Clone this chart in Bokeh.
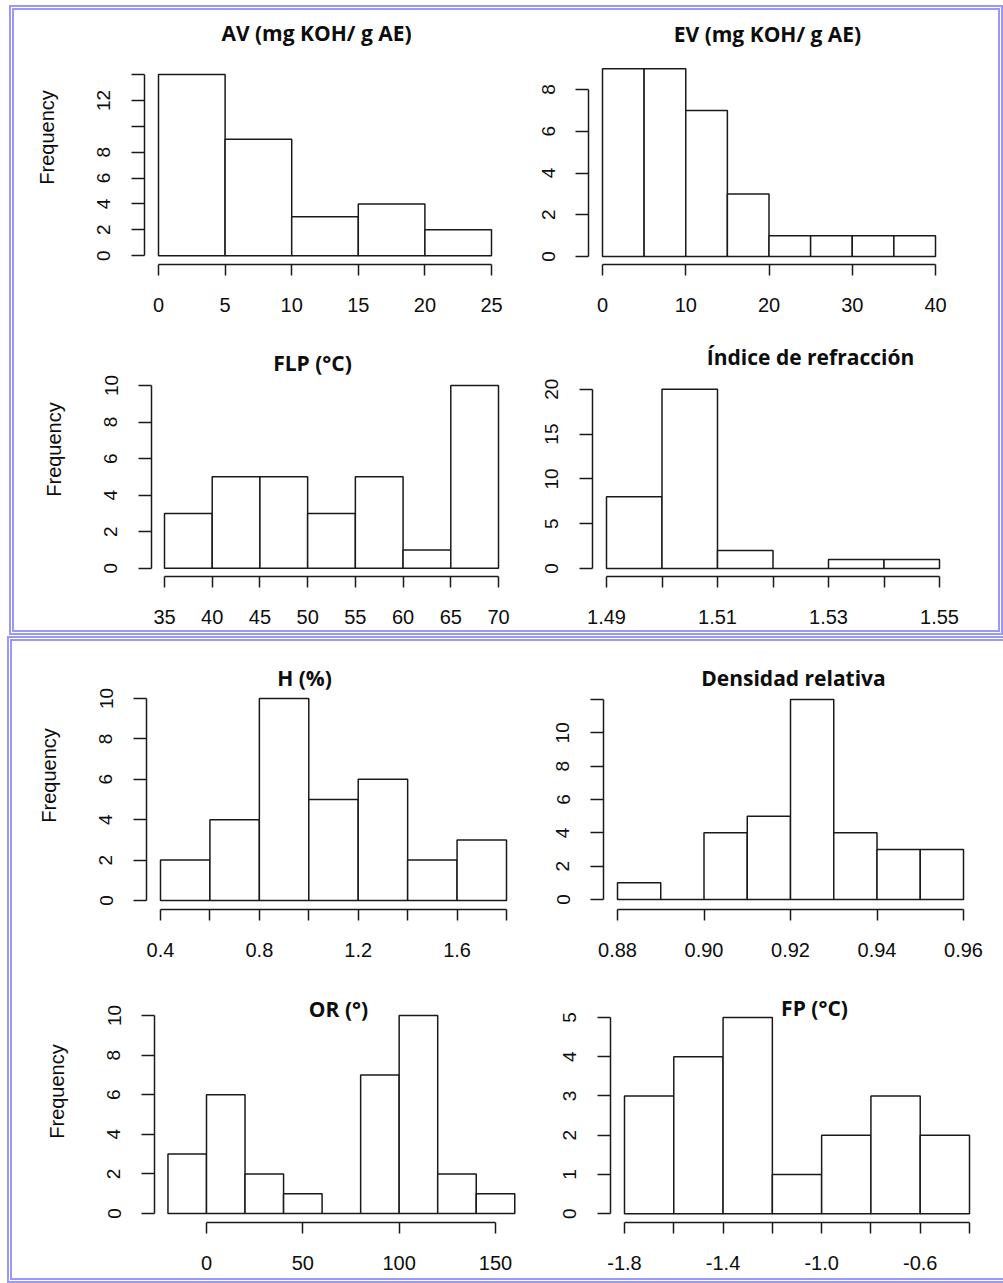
from bokeh.plotting import figure
from bokeh.layouts import column, row
from bokeh.models import FixedTicker, Label
from bokeh.embed import file_html
from bokeh.resources import INLINE

# ---------------- data ----------------
av_edges = [0, 5, 10, 15, 20, 25]
av_counts = [14, 9, 3, 4, 2]
av_xticks = [0, 5, 10, 15, 20, 25]
av_xlabels = ["0", "5", "10", "15", "20", "25"]
av_yticks = [0, 2, 4, 6, 8, 10, 12, 14]
av_ylabels = ["0", "2", "4", "6", "8", "", "12", ""]

ev_edges = [0, 5, 10, 15, 20, 25, 30, 35, 40]
ev_counts = [9, 9, 7, 3, 1, 1, 1, 1]
ev_xticks = [0, 10, 20, 30, 40]
ev_xlabels = ["0", "10", "20", "30", "40"]
ev_yticks = [0, 2, 4, 6, 8]
ev_ylabels = ["0", "2", "4", "6", "8"]

flp_edges = [35, 40, 45, 50, 55, 60, 65, 70]
flp_counts = [3, 5, 5, 3, 5, 1, 10]
flp_xticks = [35, 40, 45, 50, 55, 60, 65, 70]
flp_xlabels = ["35", "40", "45", "50", "55", "60", "65", "70"]
flp_yticks = [0, 2, 4, 6, 8, 10]
flp_ylabels = ["0", "2", "4", "6", "8", "10"]

ri_edges = [1.49, 1.50, 1.51, 1.52, 1.53, 1.54, 1.55]
ri_counts = [8, 20, 2, 0, 1, 1]
ri_xticks = [1.49, 1.50, 1.51, 1.52, 1.53, 1.54, 1.55]
ri_xlabels = ["1.49", "", "1.51", "", "1.53", "", "1.55"]
ri_yticks = [0, 5, 10, 15, 20]
ri_ylabels = ["0", "5", "10", "15", "20"]

h_edges = [0.4, 0.6, 0.8, 1.0, 1.2, 1.4, 1.6, 1.8]
h_counts = [2, 4, 10, 5, 6, 2, 3]
h_xticks = [0.4, 0.6, 0.8, 1.0, 1.2, 1.4, 1.6, 1.8]
h_xlabels = ["0.4", "", "0.8", "", "1.2", "", "1.6", ""]
h_yticks = [0, 2, 4, 6, 8, 10]
h_ylabels = ["0", "2", "4", "6", "8", "10"]

den_edges = [0.88, 0.89, 0.90, 0.91, 0.92, 0.93, 0.94, 0.95, 0.96]
den_counts = [1, 0, 4, 5, 12, 4, 3, 3]
den_xticks = [0.88, 0.90, 0.92, 0.94, 0.96]
den_xlabels = ["0.88", "0.90", "0.92", "0.94", "0.96"]
den_yticks = [0, 2, 4, 6, 8, 10, 12]
den_ylabels = ["0", "2", "4", "6", "8", "10", ""]

or_edges = [-20, 0, 20, 40, 60, 80, 100, 120, 140, 160]
or_counts = [3, 6, 2, 1, 0, 7, 10, 2, 1]
or_xticks = [0, 50, 100, 150]
or_xlabels = ["0", "50", "100", "150"]
or_yticks = [0, 2, 4, 6, 8, 10]
or_ylabels = ["0", "2", "4", "6", "8", "10"]

fp_edges = [-1.8, -1.6, -1.4, -1.2, -1.0, -0.8, -0.6, -0.4]
fp_counts = [3, 4, 5, 1, 2, 3, 2]
fp_xticks = [-1.8, -1.6, -1.4, -1.2, -1.0, -0.8, -0.6, -0.4]
fp_xlabels = ["-1.8", "", "-1.4", "", "-1.0", "", "-0.6", ""]
fp_yticks = [0, 1, 2, 3, 4, 5]
fp_ylabels = ["0", "1", "2", "3", "4", "5"]

titles = ["AV (mg KOH/ g AE)", "EV (mg KOH/ g AE)", "FLP (°C)", "Índice de refracción",
          "H (%)", "Densidad relativa", "OR (°)", "FP (°C)"]
ylab = "Frequency"

# ---------------- layout geometry (page pixels) ----------------
# cell: (left, top, width, height); frame: (left, top, right, bottom)
# calib: (xa, pxa, xb, pxb, ya, pya, yb, pyb); title centre (px, py)
GEOM = {
    "av":  dict(cell=(14, 10, 506, 312), frame=(144, 10, 494, 268),
                calib=(0, 158, 25, 491, 0, 259, 14, 75), title=(316, 33), flab=True),
    "ev":  dict(cell=(520, 10, 478, 312), frame=(588, 10, 938, 264),
                calib=(0, 602, 40, 935, 0, 256, 8, 89), title=(767, 33), flab=False),
    "flp": dict(cell=(14, 322, 506, 308), frame=(151, 322, 501, 576),
                calib=(35, 164, 70, 498, 0, 567.7, 10, 385), title=(312, 362), flab=True),
    "ri":  dict(cell=(520, 322, 478, 308), frame=(592, 322, 942, 577),
                calib=(1.49, 606, 1.55, 939, 0, 569, 20, 389), title=(810, 357), flab=False),
    "h":   dict(cell=(12, 641, 508, 319), frame=(146, 641, 509, 909),
                calib=(0.4, 160, 1.8, 506, 0, 900, 10, 698), title=(304, 677), flab=True),
    "den": dict(cell=(520, 641, 483, 319), frame=(603, 641, 966, 909),
                calib=(0.88, 617, 0.96, 963, 0, 899, 12, 699), title=(793, 677), flab=False),
    "or":  dict(cell=(12, 960, 508, 318), frame=(154, 960, 517, 1222),
                calib=(0, 206, 150, 495, 0, 1213, 10, 1015), title=(338, 1008), flab=True),
    "fp":  dict(cell=(520, 960, 483, 318), frame=(610, 960, 972, 1227),
                calib=(-1.8, 624, -0.4, 969, 0, 1218, 5, 1018), title=(814, 1008), flab=False),
}

TICK_FONT = "Liberation Sans"
TITLE_FONT = "Open Sans"
LINE = "#1a1a1a"
TEXT = "#0d0d0d"


def make_hist(key, edges, counts, xticks, xlabels, yticks, ylabels, title):
    g = GEOM[key]
    cl, ct, cw, ch = g["cell"]
    fl, ft, fr, fb = g["frame"]
    xa, pxa, xb, pxb, ya, pya, yb, pyb = g["calib"]
    sx = (pxb - pxa) / (xb - xa)
    sy = (pyb - pya) / (yb - ya)
    x0 = xa + (fl - pxa) / sx
    x1 = xa + (fr - pxa) / sx
    y0 = ya + (fb - pya) / sy
    y1 = ya + (ft - pya) / sy

    p = figure(width=cw, height=ch, x_range=(x0, x1), y_range=(y0, y1),
               output_backend="svg", toolbar_location=None,
               min_border_left=fl - cl, min_border_right=cl + cw - fr,
               min_border_top=ft - ct, min_border_bottom=ct + ch - fb)
    p.outline_line_color = None
    p.background_fill_color = "white"
    p.border_fill_color = "white"
    p.xgrid.grid_line_color = None
    p.ygrid.grid_line_color = None

    p.quad(left=edges[:-1], right=edges[1:], bottom=0, top=counts,
           fill_color="white", line_color=LINE, line_width=1.5)

    xa_ = p.xaxis[0]
    xa_.ticker = FixedTicker(ticks=xticks)
    xa_.major_label_overrides = {t: l for t, l in zip(xticks, xlabels)}
    xa_.bounds = (xticks[0], xticks[-1])
    xa_.major_tick_out = 11
    xa_.major_tick_in = 0
    xa_.minor_tick_line_color = None
    xa_.axis_line_width = 1.5
    xa_.major_tick_line_width = 1.5
    xa_.axis_line_color = LINE
    xa_.major_tick_line_color = LINE
    xa_.major_label_text_font = TICK_FONT
    xa_.major_label_text_font_size = "20px"
    xa_.major_label_text_color = TEXT
    xa_.major_label_standoff = 22

    ya_ = p.yaxis[0]
    ya_.ticker = FixedTicker(ticks=yticks)
    ya_.major_label_overrides = {t: l for t, l in zip(yticks, ylabels)}
    ya_.bounds = (yticks[0], yticks[-1])
    ya_.major_tick_out = 13
    ya_.major_tick_in = 0
    ya_.minor_tick_line_color = None
    ya_.axis_line_width = 1.5
    ya_.major_tick_line_width = 1.5
    ya_.axis_line_color = LINE
    ya_.major_tick_line_color = LINE
    ya_.major_label_orientation = "vertical"
    ya_.major_label_text_font = TICK_FONT
    ya_.major_label_text_font_size = "19px"
    ya_.major_label_text_color = TEXT
    ya_.major_label_standoff = 21
    if g["flab"]:
        ya_.axis_label = ylab
        ya_.axis_label_text_font = TICK_FONT
        ya_.axis_label_text_font_size = "20px"
        ya_.axis_label_text_font_style = "normal"
        ya_.axis_label_text_color = TEXT
        ya_.axis_label_standoff = 37

    tx, ty = g["title"]
    lx = x0 + (tx - fl) / sx
    ly = ya + (ty - pya) / sy
    p.add_layout(Label(x=lx, y=ly, text=title, text_align="center", text_baseline="middle",
                       text_font=TITLE_FONT, text_font_size="21px", text_font_style="bold",
                       text_color=TEXT))
    return p


f_av = make_hist("av", av_edges, av_counts, av_xticks, av_xlabels, av_yticks, av_ylabels, titles[0])
f_ev = make_hist("ev", ev_edges, ev_counts, ev_xticks, ev_xlabels, ev_yticks, ev_ylabels, titles[1])
f_flp = make_hist("flp", flp_edges, flp_counts, flp_xticks, flp_xlabels, flp_yticks, flp_ylabels, titles[2])
f_ri = make_hist("ri", ri_edges, ri_counts, ri_xticks, ri_xlabels, ri_yticks, ri_ylabels, titles[3])
f_h = make_hist("h", h_edges, h_counts, h_xticks, h_xlabels, h_yticks, h_ylabels, titles[4])
f_den = make_hist("den", den_edges, den_counts, den_xticks, den_xlabels, den_yticks, den_ylabels, titles[5])
f_or = make_hist("or", or_edges, or_counts, or_xticks, or_xlabels, or_yticks, or_ylabels, titles[6])
f_fp = make_hist("fp", fp_edges, fp_counts, fp_xticks, fp_xlabels, fp_yticks, fp_ylabels, titles[7])

BORDER = "5px double #9a9af6"
top_panel = column(row(f_av, f_ev), row(f_flp, f_ri),
                   styles={"border": BORDER}, margin=(5, 0, 0, 9))
bottom_panel = column(row(f_h, f_den), row(f_or, f_fp),
                      styles={"border-top": BORDER, "border-left": BORDER, "border-bottom": BORDER},
                      margin=(1, 0, 0, 7))
page = column(top_panel, bottom_panel)

open("out.html", "w").write(file_html(page, INLINE))
